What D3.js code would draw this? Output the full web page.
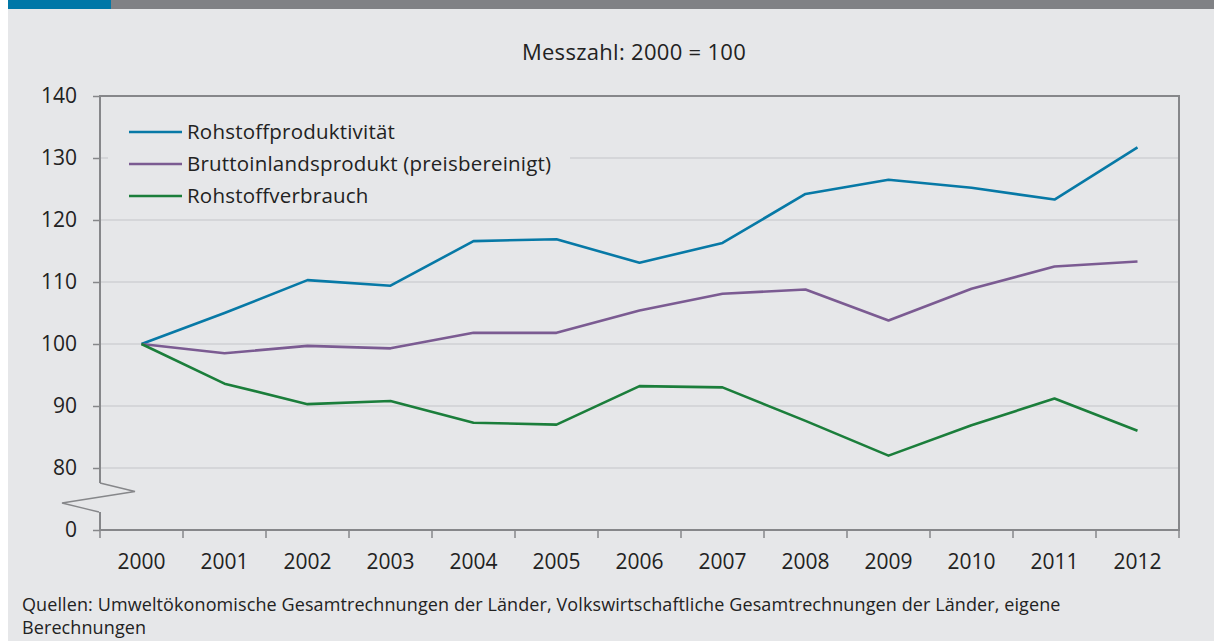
<!DOCTYPE html>
<html>
<head>
<meta charset="utf-8">
<script src="https://cdn.jsdelivr.net/npm/d3@7"></script>
<style>
  html, body { margin: 0; padding: 0; background: #fff; }
  svg { display: block; font-family: "Open Sans", "Noto Sans", sans-serif; }
</style>
</head>
<body>
<script>
// Data
const years = ["2000", "2001", "2002", "2003", "2004", "2005", "2006", "2007", "2008", "2009", "2010", "2011", "2012"];
const produktivitaet = [100, 105.0, 110.3, 109.4, 116.6, 116.9, 113.1, 116.3, 124.2, 126.5, 125.2, 123.3, 131.7];
const bip = [100, 98.5, 99.7, 99.3, 101.8, 101.8, 105.4, 108.1, 108.8, 103.8, 108.9, 112.5, 113.3];
const verbrauch = [100, 93.6, 90.3, 90.8, 87.3, 87.0, 93.2, 93.0, 87.6, 82.0, 86.9, 91.2, 86.0];
const yTicks = [0, 80, 90, 100, 110, 120, 130, 140];
const seriesNames = ["Rohstoffproduktivität", "Bruttoinlandsprodukt (preisbereinigt)", "Rohstoffverbrauch"];
const seriesColors = ["#0779a6", "#7b5b92", "#1b7e3b"];

const width = 1214, height = 641;
const plotLeft = 100, plotRight = 1179, plotTop = 96, plotBottom = 530;

const svg = d3.select("body").append("svg")
  .attr("width", width)
  .attr("height", height);

// Panel background and header bar
svg.append("rect").attr("x", 8).attr("y", 0).attr("width", width - 8).attr("height", height).attr("fill", "#e6e7e9");
svg.append("rect").attr("x", 8).attr("y", 0).attr("width", width - 8).attr("height", 9).attr("fill", "#808185");
svg.append("rect").attr("x", 8).attr("y", 0).attr("width", 103).attr("height", 9).attr("fill", "#0077a7");

// Scales: the y axis is broken between 0 and 80
const x = d3.scaleBand().domain(years).range([plotLeft, plotRight]);
const y = d3.scaleLinear().domain([0, 80, 140]).range([plotBottom, 468, plotTop]);

// Title
svg.append("text")
  .attr("x", 634).attr("y", 60)
  .attr("text-anchor", "middle")
  .attr("font-size", 22)
  .attr("letter-spacing", 0.3)
  .attr("fill", "#222")
  .text("Messzahl: 2000 = 100");

// Gridlines
svg.append("g")
  .selectAll("line")
  .data(yTicks.filter(d => d > 0 && d < 140))
  .join("line")
  .attr("x1", plotLeft).attr("x2", plotRight)
  .attr("y1", d => y(d)).attr("y2", d => y(d))
  .attr("stroke", "#cfd0d3")
  .attr("stroke-width", 1.5);

// Legend box hides the gridline behind it
svg.append("rect")
  .attr("x", 108).attr("y", 112).attr("width", 462).attr("height", 100)
  .attr("fill", "#e6e7e9");

// Y axis ticks and labels
const yAxis = svg.append("g")
  .attr("transform", `translate(${plotLeft},0)`)
  .call(d3.axisLeft(y).tickValues(yTicks).tickSize(7).tickPadding(16).tickFormat(d3.format("d")));
yAxis.select(".domain").remove();
yAxis.selectAll(".tick line").attr("stroke", "#86878a").attr("stroke-width", 1.5);
yAxis.selectAll(".tick text").attr("font-size", 21).attr("fill", "#222");
yAxis.attr("font-family", null);

// X axis ticks at band edges and labels at band centres
const xEdges = years.map(d => x(d)).concat([plotRight]);
svg.append("g")
  .selectAll("line")
  .data(xEdges)
  .join("line")
  .attr("x1", d => d).attr("x2", d => d)
  .attr("y1", plotBottom).attr("y2", plotBottom + 8)
  .attr("stroke", "#86878a")
  .attr("stroke-width", 1.5);
svg.append("g")
  .selectAll("text")
  .data(years)
  .join("text")
  .attr("x", d => x(d) + x.bandwidth() / 2)
  .attr("y", 569)
  .attr("text-anchor", "middle")
  .attr("font-size", 21)
  .attr("fill", "#222")
  .text(d => d);

// Frame: top, right, bottom and the broken left axis
const frame = svg.append("g").attr("fill", "none").attr("stroke", "#86878a").attr("stroke-width", 2);
frame.append("path")
  .attr("d", `M${plotLeft},${plotBottom}H${plotRight}V${plotTop}H${plotLeft}V483`);
frame.append("path")
  .attr("stroke-width", 1.3)
  .attr("d", `M${plotLeft},483L135,491.5L62,503L99,512`);
frame.append("path")
  .attr("d", `M${plotLeft},512V${plotBottom}`);

// Lines
const line = d3.line()
  .x((d, i) => x(years[i]) + x.bandwidth() / 2)
  .y(d => y(d));
const allSeries = [produktivitaet, bip, verbrauch];
svg.append("g")
  .selectAll("path")
  .data(allSeries)
  .join("path")
  .attr("d", line)
  .attr("fill", "none")
  .attr("stroke", (d, i) => seriesColors[i])
  .attr("stroke-width", 2.6)
  .attr("stroke-linejoin", "round");

// Legend
const legend = svg.append("g")
  .selectAll("g")
  .data(seriesNames)
  .join("g")
  .attr("transform", (d, i) => `translate(129,${132 + i * 32})`);
legend.append("line")
  .attr("x1", 0).attr("x2", 53)
  .attr("stroke", (d, i) => seriesColors[i])
  .attr("stroke-width", 2.6);
legend.append("text")
  .attr("x", 58).attr("y", 7)
  .attr("font-size", 20.5)
  .attr("letter-spacing", 0.2)
  .attr("fill", "#222")
  .text(d => d);

// Source note
const note = svg.append("text")
  .attr("x", 22).attr("y", 611)
  .attr("font-size", 18)
  .attr("letter-spacing", 0.1)
  .attr("fill", "#222");
note.append("tspan").text("Quellen: Umweltökonomische Gesamtrechnungen der Länder, Volkswirtschaftliche Gesamtrechnungen der Länder, eigene");
note.append("tspan").attr("x", 22).attr("dy", 23).text("Berechnungen");
</script>
</body>
</html>
